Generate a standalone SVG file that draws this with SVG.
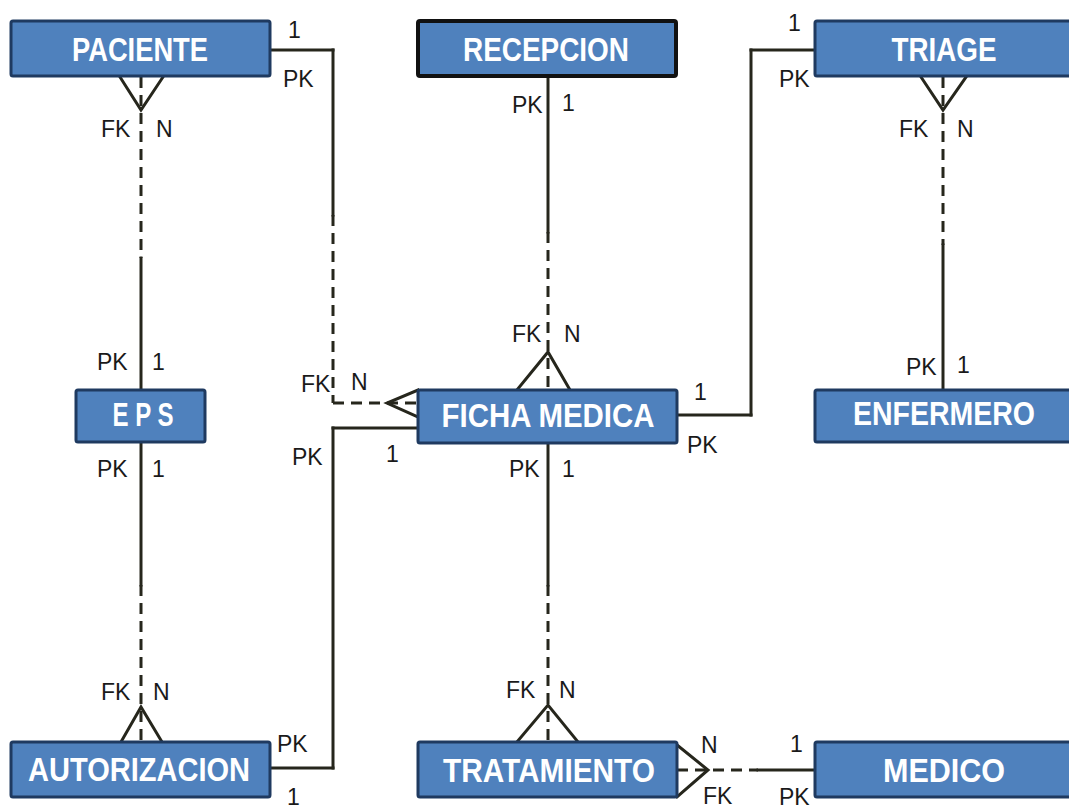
<svg xmlns="http://www.w3.org/2000/svg" width="1069" height="810" viewBox="0 0 1069 810">
<style>
.box{fill:#4F81BD;stroke:#1F3A60;stroke-width:3}
.box.dark{stroke:#111;stroke-width:4}
.title{font-family:"Liberation Sans",Arial,sans-serif;font-weight:bold;font-size:34px;fill:#fff;text-anchor:middle}
.lbl{font-family:"Liberation Sans",Arial,sans-serif;font-size:23px;fill:#1a1a1a}
.ln{fill:none;stroke:#26261c;stroke-width:3;stroke-linecap:square}
.ds{fill:none;stroke:#26261c;stroke-width:3;stroke-dasharray:11 7}
</style>
<rect width="1069" height="810" fill="#fff"/>
<g id="connectors">
<!-- PACIENTE - EPS -->
<line class="ds" x1="141" y1="77" x2="141" y2="258"/>
<line class="ln" x1="141" y1="258" x2="141" y2="389"/>
<path class="ln" d="M120,77 L141,110 L163,77"/>
<!-- EPS - AUTORIZACION -->
<line class="ln" x1="141" y1="442" x2="141" y2="585"/>
<line class="ds" x1="141" y1="585" x2="141" y2="742"/>
<path class="ln" d="M121,742 L141,707 L162,742"/>
<!-- PACIENTE - FICHA -->
<line class="ln" x1="270" y1="50" x2="333" y2="50"/>
<line class="ln" x1="333" y1="50" x2="333" y2="215"/>
<line class="ds" x1="333" y1="215" x2="333" y2="403"/>
<line class="ds" x1="333" y1="403" x2="418" y2="403"/>
<path class="ln" d="M418,390 L387,403 L418,417"/>
<!-- RECEPCION - FICHA -->
<line class="ln" x1="548" y1="77" x2="548" y2="232"/>
<line class="ds" x1="548" y1="232" x2="548" y2="390"/>
<path class="ln" d="M517,390 L548,352 L570,390"/>
<!-- FICHA - TRIAGE -->
<line class="ln" x1="677" y1="415" x2="751" y2="415"/>
<line class="ln" x1="751" y1="415" x2="751" y2="50"/>
<line class="ln" x1="751" y1="50" x2="815" y2="50"/>
<!-- TRIAGE - ENFERMERO -->
<line class="ds" x1="943" y1="77" x2="943" y2="245"/>
<line class="ln" x1="943" y1="245" x2="943" y2="389"/>
<path class="ln" d="M921,77 L943,110 L966,77"/>
<!-- FICHA - AUTORIZACION -->
<line class="ln" x1="418" y1="428" x2="333" y2="428"/>
<line class="ln" x1="333" y1="428" x2="333" y2="768"/>
<line class="ln" x1="333" y1="768" x2="270" y2="768"/>
<!-- FICHA - TRATAMIENTO -->
<line class="ln" x1="548" y1="443" x2="548" y2="585"/>
<line class="ds" x1="548" y1="585" x2="548" y2="742"/>
<path class="ln" d="M517,742 L548,705 L578,742"/>
<!-- TRATAMIENTO - MEDICO -->
<line class="ds" x1="677" y1="770" x2="758" y2="770"/>
<line class="ln" x1="758" y1="770" x2="815" y2="770"/>
<path class="ln" d="M677,745 L708,770 L677,797"/>
</g>
<g id="labels">
<text class="lbl" x="288" y="38">1</text>
<text class="lbl" x="283" y="87">PK</text>
<text class="lbl" x="101" y="137">FK</text>
<text class="lbl" x="156" y="137">N</text>
<text class="lbl" x="512" y="113">PK</text>
<text class="lbl" x="562" y="111">1</text>
<text class="lbl" x="788" y="31">1</text>
<text class="lbl" x="779" y="87">PK</text>
<text class="lbl" x="899" y="137">FK</text>
<text class="lbl" x="957" y="137">N</text>
<text class="lbl" x="301" y="392">FK</text>
<text class="lbl" x="351" y="390">N</text>
<text class="lbl" x="512" y="342">FK</text>
<text class="lbl" x="564" y="342">N</text>
<text class="lbl" x="694" y="400">1</text>
<text class="lbl" x="687" y="453">PK</text>
<text class="lbl" x="292" y="465">PK</text>
<text class="lbl" x="386" y="462">1</text>
<text class="lbl" x="509" y="477">PK</text>
<text class="lbl" x="562" y="477">1</text>
<text class="lbl" x="97" y="370">PK</text>
<text class="lbl" x="152" y="370">1</text>
<text class="lbl" x="97" y="477">PK</text>
<text class="lbl" x="152" y="477">1</text>
<text class="lbl" x="906" y="375">PK</text>
<text class="lbl" x="957" y="373">1</text>
<text class="lbl" x="101" y="700">FK</text>
<text class="lbl" x="153" y="700">N</text>
<text class="lbl" x="277" y="752">PK</text>
<text class="lbl" x="287" y="805">1</text>
<text class="lbl" x="506" y="698">FK</text>
<text class="lbl" x="559" y="698">N</text>
<text class="lbl" x="701" y="753">N</text>
<text class="lbl" x="703" y="804">FK</text>
<text class="lbl" x="790" y="752">1</text>
<text class="lbl" x="779" y="805">PK</text>
</g>
<g id="paciente"><rect class="box" x="11" y="21" width="259" height="55" rx="2"/><text class="title" x="140" y="61" textLength="136" lengthAdjust="spacingAndGlyphs">PACIENTE</text></g>
<g id="recepcion"><rect class="box dark" x="418" y="21" width="258" height="55" rx="2"/><text class="title" x="546" y="61" textLength="166" lengthAdjust="spacingAndGlyphs">RECEPCION</text></g>
<g id="triage"><rect class="box" x="815" y="21" width="256" height="55" rx="2"/><text class="title" x="944" y="61" textLength="105" lengthAdjust="spacingAndGlyphs">TRIAGE</text></g>
<g id="eps"><rect class="box" x="76" y="390" width="129" height="52" rx="2"/><text class="title" x="143" y="426" textLength="61" lengthAdjust="spacingAndGlyphs">E P S</text></g>
<g id="ficha-medica"><rect class="box" x="418" y="390" width="259" height="53" rx="2"/><text class="title" x="548" y="427" textLength="213" lengthAdjust="spacingAndGlyphs">FICHA MEDICA</text></g>
<g id="enfermero"><rect class="box" x="815" y="390" width="256" height="52" rx="2"/><text class="title" x="944" y="425" textLength="182" lengthAdjust="spacingAndGlyphs">ENFERMERO</text></g>
<g id="autorizacion"><rect class="box" x="11" y="742" width="259" height="55" rx="2"/><text class="title" x="139" y="781" textLength="222" lengthAdjust="spacingAndGlyphs">AUTORIZACION</text></g>
<g id="tratamiento"><rect class="box" x="418" y="742" width="259" height="55" rx="2"/><text class="title" x="549" y="782" textLength="212" lengthAdjust="spacingAndGlyphs">TRATAMIENTO</text></g>
<g id="medico"><rect class="box" x="815" y="742" width="256" height="55" rx="2"/><text class="title" x="944" y="782" textLength="122" lengthAdjust="spacingAndGlyphs">MEDICO</text></g>
</svg>
